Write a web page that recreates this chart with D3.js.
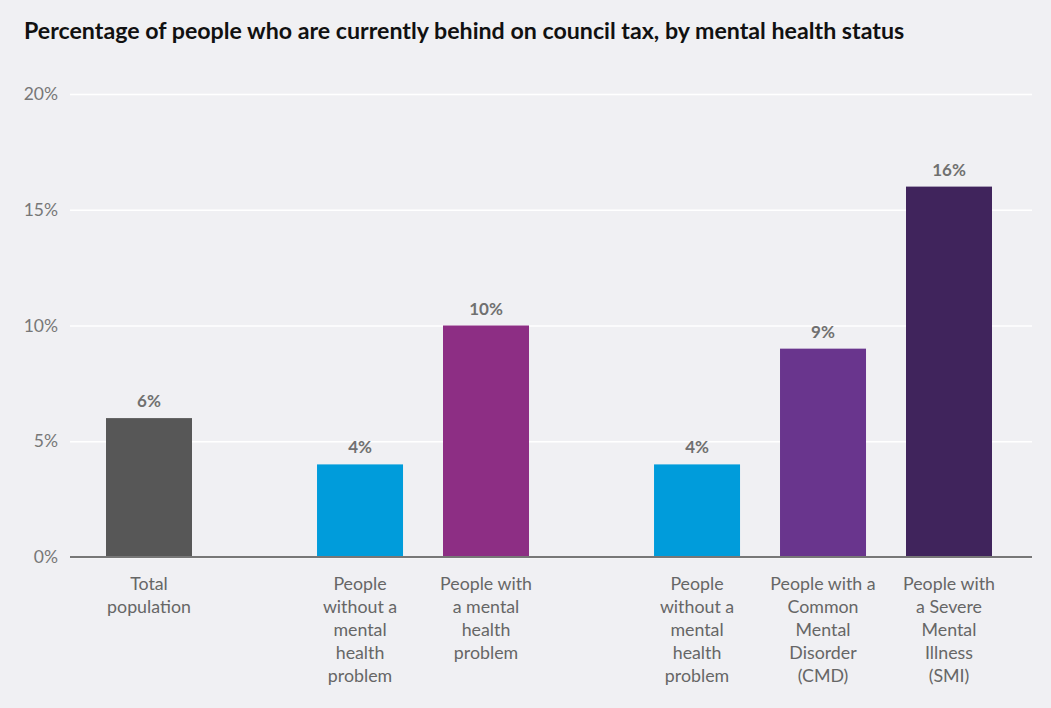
<!DOCTYPE html>
<html>
<head>
<meta charset="utf-8">
<script src="https://cdn.jsdelivr.net/npm/d3@7"></script>
<style>
  html, body { margin: 0; padding: 0; background: #f0f0f3; }
  svg { display: block; }
</style>
</head>
<body>
<svg id="chart" width="1051" height="708"></svg>
<script>
const title = "Percentage of people who are currently behind on council tax, by mental health status";
const groups = [0, 1, 1, 2, 2, 2];
const categories = [
  ["Total", "population"],
  ["People", "without a", "mental", "health", "problem"],
  ["People with", "a mental", "health", "problem"],
  ["People", "without a", "mental", "health", "problem"],
  ["People with a", "Common", "Mental", "Disorder", "(CMD)"],
  ["People with", "a Severe", "Mental", "Illness", "(SMI)"]
];
const values = [6, 4, 10, 4, 9, 16];
const colors = ["#575757", "#009cdb", "#8d2e84", "#009cdb", "#69358d", "#40245c"];
const yTicks = [0, 5, 10, 15, 20];

const svg = d3.select("#chart");
const fontFamily = "'Source Sans Pro', Lato, 'Open Sans', sans-serif";

const plotLeft = 70, plotRight = 1032;
const y = d3.scaleLinear().domain([0, 20]).range([557, 94]);

// bar positions: index units with extra gap between groups
const gapUnits = 0.675;
const pos = values.map((v, i) => i + groups[i] * gapUnits);
const x = d3.scaleLinear().domain([0, d3.max(pos)]).range([149, 949]);
const barW = 86;

// title
svg.append("text")
  .attr("x", 24).attr("y", 39)
  .attr("font-family", fontFamily)
  .attr("font-weight", 700)
  .attr("font-size", 23.2)
  .attr("fill", "#111")
  .text(title);

// grid
const yAxis = d3.axisLeft(y).tickValues(yTicks).tickFormat(d => d + "%")
  .tickSize(-(plotRight - plotLeft)).tickPadding(12);
const gy = svg.append("g").attr("transform", `translate(${plotLeft},0)`).call(yAxis);
gy.select(".domain").remove();
gy.selectAll(".tick line").attr("stroke", "#ffffff").attr("stroke-width", 1.5);
gy.selectAll(".tick text")
  .attr("font-family", fontFamily)
  .attr("font-size", 17.5)
  .attr("fill", "#777");

// bars
svg.append("g").selectAll("rect").data(values).join("rect")
  .attr("x", (d, i) => x(pos[i]) - barW / 2)
  .attr("y", d => y(d))
  .attr("width", barW)
  .attr("height", d => y(0) - y(d))
  .attr("fill", (d, i) => colors[i]);

// baseline
svg.append("line")
  .attr("x1", plotLeft).attr("x2", plotRight)
  .attr("y1", y(0)).attr("y2", y(0))
  .attr("stroke", "#777").attr("stroke-width", 2);

// value labels
svg.append("g").selectAll("text").data(values).join("text")
  .attr("x", (d, i) => x(pos[i]))
  .attr("y", d => y(d) - 11)
  .attr("text-anchor", "middle")
  .attr("font-family", fontFamily)
  .attr("font-weight", 700)
  .attr("font-size", 17)
  .attr("fill", "#707070")
  .text(d => d + "%");

// category labels
const cl = svg.append("g").selectAll("text").data(categories).join("text")
  .attr("x", (d, i) => x(pos[i]))
  .attr("y", 590)
  .attr("text-anchor", "middle")
  .attr("font-family", fontFamily)
  .attr("font-size", 17.8)
  .attr("fill", "#666");
cl.selectAll("tspan").data(d => d).join("tspan")
  .attr("x", function () { return d3.select(this.parentNode).attr("x"); })
  .attr("dy", (d, i) => i === 0 ? 0 : 23)
  .text(d => d);
</script>
</body>
</html>
